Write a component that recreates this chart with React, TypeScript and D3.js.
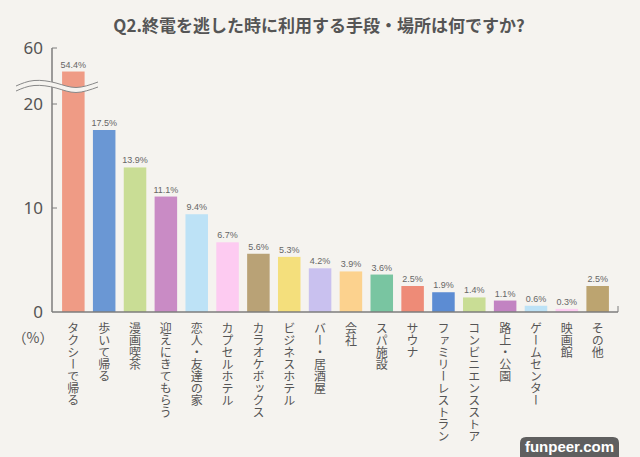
import React from 'react';
import * as d3 from 'd3';

const categories = [
  'タクシーで帰る', '歩いて帰る', '漫画喫茶', '迎えにきてもらう', '恋人・友達の家',
  'カプセルホテル', 'カラオケボックス', 'ビジネスホテル', 'バー・居酒屋', '会社',
  'スパ施設', 'サウナ', 'ファミリーレストラン', 'コンビニエンスストア', '路上・公園',
  'ゲームセンター', '映画館', 'その他',
];
const values = [54.4, 17.5, 13.9, 11.1, 9.4, 6.7, 5.6, 5.3, 4.2, 3.9, 3.6, 2.5, 1.9, 1.4, 1.1, 0.6, 0.3, 2.5];
const colors = [
  '#ef9b85', '#6a97d4', '#c9dd95', '#c98bc5', '#bde2f6', '#fdcbf1', '#b9a276', '#f4df7c', '#c9c1ef',
  '#fcd28e', '#79c5a1', '#ee8b77', '#5c8cd3', '#c9dd95', '#c283c2', '#bde2f6', '#fdcbf1', '#bca470',
];
const yTicks = [0, 10, 20, 60];

const W = 640;
const H = 457;
const BG = '#f5f3ef';
const TXT = '#555';
const JP = '"Noto Sans CJK JP", "Noto Sans", sans-serif';

const App: React.FC = () => {
  const x = d3.scaleBand<string>()
    .domain(categories)
    .range([59, 612])
    .paddingInner(0.27)
    .paddingOuter(0.1);

  // broken axis: 0-20 linear, then compressed above the break
  const y = d3.scaleLinear()
    .domain([0, 20, 50, 60])
    .range([312, 104, 90, 48]);

  const axisX = 52;
  const base = y(0);

  const wave = d3.line<[number, number]>().curve(d3.curveNatural);
  const wavePts: [number, number][] = [[16, 86], [34, 80.5], [56, 83], [76, 87.5], [98, 82]];
  const wavePts2 = wavePts.map(([a, b]) => [a, b + 5] as [number, number]);
  const gap = wave(wavePts)! + 'L' + wave(wavePts2.slice().reverse())!.slice(1) + 'Z';

  return (
    <svg width={W} height={H} style={{ position: 'absolute', left: 0, top: 0, background: BG }}>
      <rect width={W} height={H} fill={BG} />
      <text x={319} y={32} textAnchor="middle" fontFamily={JP} fontWeight="bold" fontSize={17} fill={TXT}>
        Q2.終電を逃した時に利用する手段・場所は何ですか?
      </text>

      {categories.map((c, i) => {
        const bx = x(c)!;
        const top = y(values[i]);
        return (
          <g key={c}>
            <rect x={bx} y={top} width={x.bandwidth()} height={base - top} fill={colors[i]} />
            <text x={bx + x.bandwidth() / 2} y={top - 4} textAnchor="middle"
              fontFamily='"Liberation Sans Narrow", "Liberation Sans", sans-serif' fontSize={9} fill="#666">
              {values[i]}%
            </text>
            <text x={bx + x.bandwidth() / 2} y={322} fontFamily={JP} fontSize={12} fill={TXT}
              style={{ writingMode: 'vertical-rl' }}>
              {c}
            </text>
          </g>
        );
      })}

      <line x1={axisX} x2={axisX} y1={y(60)} y2={base} stroke="#7d7d7d" strokeWidth={1.5} />
      <line x1={axisX} x2={618} y1={base} y2={base} stroke="#7d7d7d" strokeWidth={1.5} />
      <line x1={618} x2={618} y1={base - 6} y2={base} stroke="#7d7d7d" strokeWidth={1} />
      {yTicks.map(t => (
        <g key={t}>
          {t > 0 && <line x1={axisX} x2={axisX + 5} y1={y(t)} y2={y(t)} stroke="#7d7d7d" strokeWidth={1} />}
          <text x={43} y={y(t)} dy="0.36em" textAnchor="end" fontFamily='"Noto Sans", sans-serif'
            fontSize={17} fill={TXT}>{t}</text>
        </g>
      ))}
      <text x={33} y={338} dy="0.36em" textAnchor="middle" fontFamily={JP} fontSize={14} fill={TXT}>（%）</text>

      <path d={gap} fill={BG} stroke="none" />
      <path d={wave(wavePts)!} fill="none" stroke="#888" strokeWidth={1} />
      <path d={wave(wavePts2)!} fill="none" stroke="#888" strokeWidth={1} />

      <path d="M520,457 L520,443 Q520,437 526,437 L613,437 Q619,437 619,443 L619,457 Z" fill="#5f5f5f" />
      <text x={569.5} y={452} textAnchor="middle" fontFamily='"Liberation Sans", sans-serif'
        fontWeight="bold" fontSize={15} fill="#fff">funpeer.com</text>
    </svg>
  );
};

export default App;
